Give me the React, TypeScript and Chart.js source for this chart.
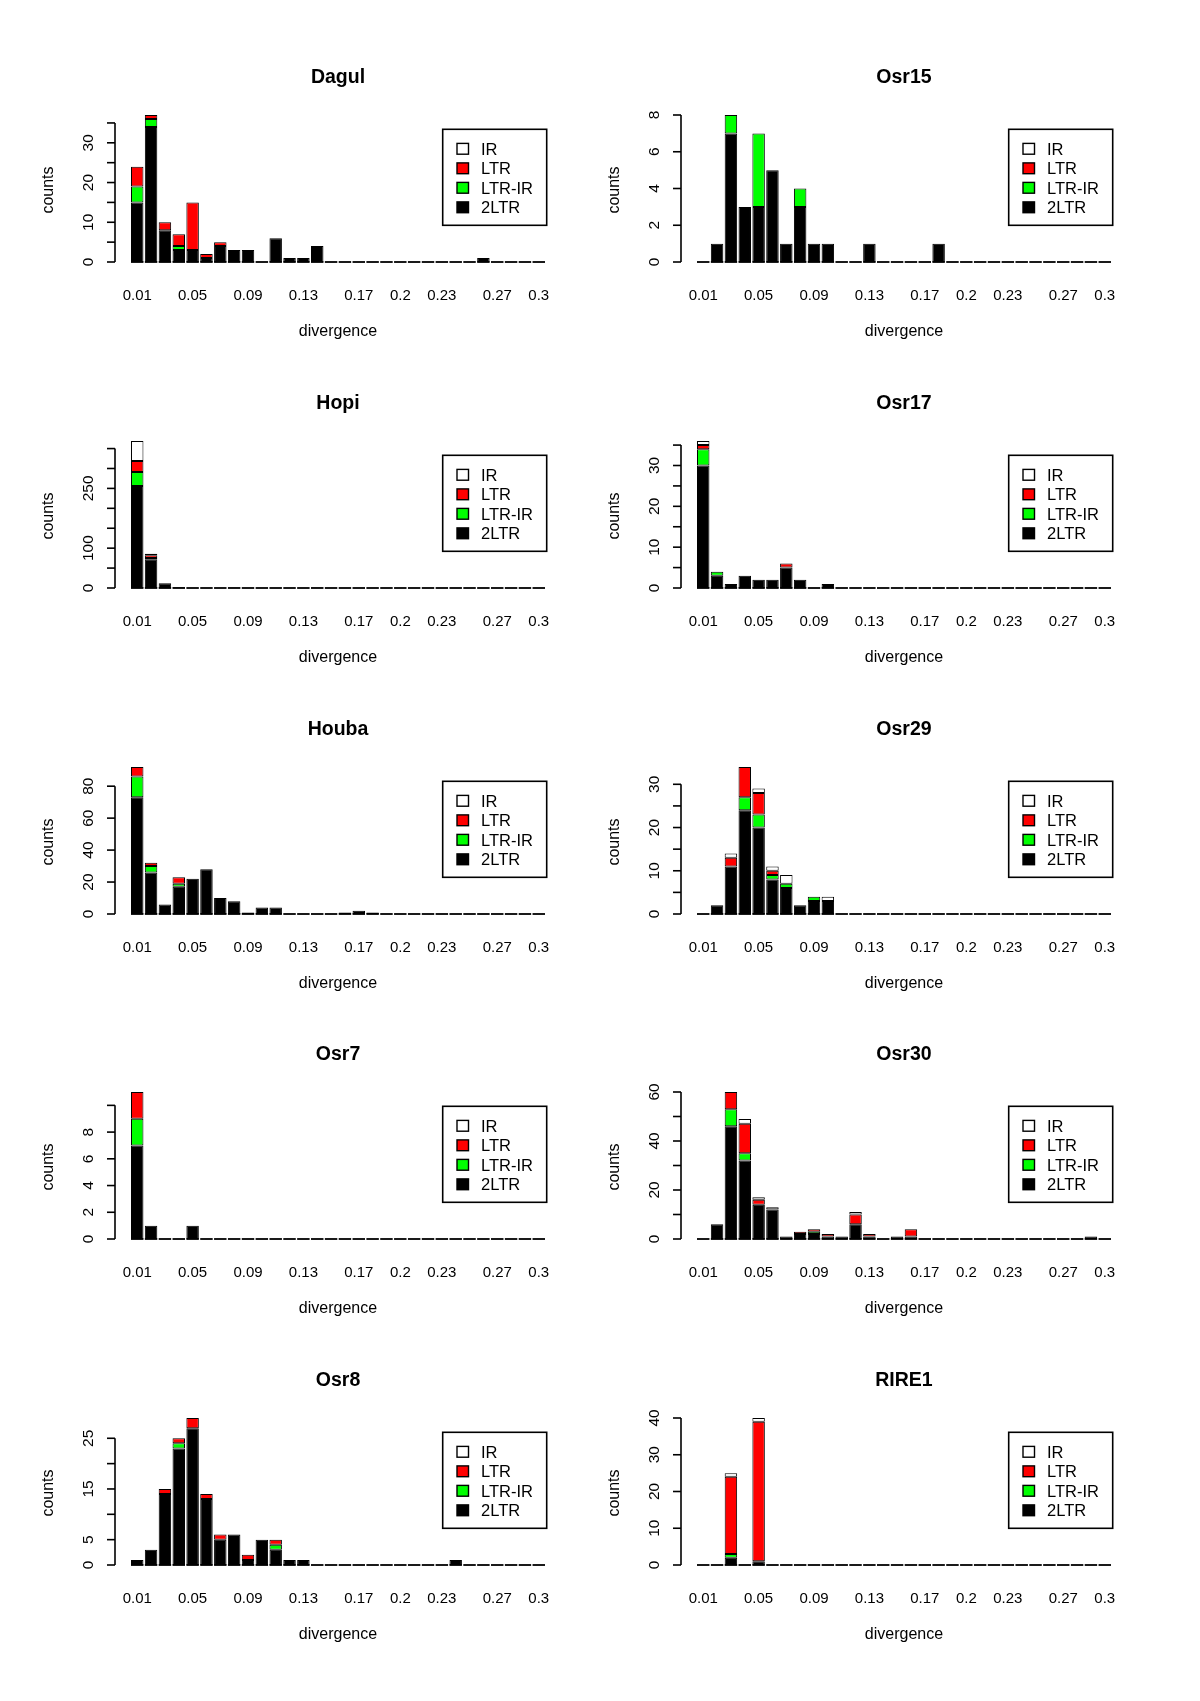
import React, { useEffect, useRef } from "react";
import { Chart, registerables } from "chart.js";

Chart.register(...registerables);

// ---------- data ----------
const categories = [
  "0.01", "0.02", "0.03", "0.04", "0.05", "0.06", "0.07", "0.08", "0.09", "0.1",
  "0.11", "0.12", "0.13", "0.14", "0.15", "0.16", "0.17", "0.18", "0.19", "0.2",
  "0.21", "0.22", "0.23", "0.24", "0.25", "0.26", "0.27", "0.28", "0.29", "0.3",
];
const shownXLabels = ["0.01", "0.05", "0.09", "0.13", "0.17", "0.2", "0.23", "0.27", "0.3"];

const seriesNames = ["2LTR", "LTR-IR", "LTR", "IR"];
const seriesColors = ["#000000", "#00FF00", "#FF0000", "#FFFFFF"];
const legendLabels = ["IR", "LTR", "LTR-IR", "2LTR"];
const legendColors = ["#FFFFFF", "#FF0000", "#00FF00", "#000000"];

// Dagul
const dagul2LTR = [15, 34, 8, 3, 3, 1, 4, 3, 3, 0, 6, 1, 1, 4, 0, 0, 0, 0, 0, 0, 0, 0, 0, 0, 0, 1, 0, 0, 0, 0];
const dagulLTRIR = [4, 2, 0, 1, 0, 0, 0, 0, 0, 0, 0, 0, 0, 0, 0, 0, 0, 0, 0, 0, 0, 0, 0, 0, 0, 0, 0, 0, 0, 0];
const dagulLTR = [5, 1, 2, 3, 12, 1, 1, 0, 0, 0, 0, 0, 0, 0, 0, 0, 0, 0, 0, 0, 0, 0, 0, 0, 0, 0, 0, 0, 0, 0];
const dagulIR = [0, 0, 0, 0, 0, 0, 0, 0, 0, 0, 0, 0, 0, 0, 0, 0, 0, 0, 0, 0, 0, 0, 0, 0, 0, 0, 0, 0, 0, 0];
const dagulTicks = [0, 5, 10, 15, 20, 25, 30, 35];
const dagulTickLabels = [0, 10, 20, 30];

// Osr15
const osr15_2LTR = [0, 1, 7, 3, 3, 5, 1, 3, 1, 1, 0, 0, 1, 0, 0, 0, 0, 1, 0, 0, 0, 0, 0, 0, 0, 0, 0, 0, 0, 0];
const osr15LTRIR = [0, 0, 1, 0, 4, 0, 0, 1, 0, 0, 0, 0, 0, 0, 0, 0, 0, 0, 0, 0, 0, 0, 0, 0, 0, 0, 0, 0, 0, 0];
const osr15LTR = [0, 0, 0, 0, 0, 0, 0, 0, 0, 0, 0, 0, 0, 0, 0, 0, 0, 0, 0, 0, 0, 0, 0, 0, 0, 0, 0, 0, 0, 0];
const osr15IR = [0, 0, 0, 0, 0, 0, 0, 0, 0, 0, 0, 0, 0, 0, 0, 0, 0, 0, 0, 0, 0, 0, 0, 0, 0, 0, 0, 0, 0, 0];
const osr15Ticks = [0, 2, 4, 6, 8];
const osr15TickLabels = [0, 2, 4, 6, 8];

// Hopi
const hopi2LTR = [256, 72, 12, 2, 0, 0, 0, 1, 0, 0, 0, 0, 0, 1, 0, 0, 0, 0, 0, 0, 0, 0, 0, 0, 0, 0, 0, 0, 0, 0];
const hopiLTRIR = [35, 3, 0, 0, 0, 0, 0, 0, 0, 0, 0, 0, 0, 0, 0, 0, 0, 0, 0, 0, 0, 0, 0, 0, 0, 0, 0, 0, 0, 0];
const hopiLTR = [28, 7, 0, 0, 0, 0, 0, 0, 0, 0, 0, 0, 0, 0, 0, 0, 0, 0, 0, 0, 0, 0, 0, 0, 0, 0, 0, 0, 0, 0];
const hopiIR = [50, 4, 0, 0, 0, 0, 0, 0, 0, 0, 0, 0, 0, 0, 0, 0, 0, 0, 0, 0, 0, 0, 0, 0, 0, 0, 0, 0, 0, 0];
const hopiTicks = [0, 50, 100, 150, 200, 250, 300, 350];
const hopiTickLabels = [0, 100, 250];

// Osr17
const osr17_2LTR = [30, 3, 1, 3, 2, 2, 5, 2, 0, 1, 0, 0, 0, 0, 0, 0, 0, 0, 0, 0, 0, 0, 0, 0, 0, 0, 0, 0, 0, 0];
const osr17LTRIR = [4, 1, 0, 0, 0, 0, 0, 0, 0, 0, 0, 0, 0, 0, 0, 0, 0, 0, 0, 0, 0, 0, 0, 0, 0, 0, 0, 0, 0, 0];
const osr17LTR = [1, 0, 0, 0, 0, 0, 1, 0, 0, 0, 0, 0, 0, 0, 0, 0, 0, 0, 0, 0, 0, 0, 0, 0, 0, 0, 0, 0, 0, 0];
const osr17IR = [1, 0, 0, 0, 0, 0, 0, 0, 0, 0, 0, 0, 0, 0, 0, 0, 0, 0, 0, 0, 0, 0, 0, 0, 0, 0, 0, 0, 0, 0];
const osr17Ticks = [0, 5, 10, 15, 20, 25, 30, 35];
const osr17TickLabels = [0, 10, 20, 30];

// Houba
const houba2LTR = [73, 26, 6, 17, 22, 28, 10, 8, 1, 4, 4, 0, 0, 0, 0, 1, 2, 1, 0, 0, 0, 0, 0, 0, 0, 0, 0, 0, 0, 0];
const houbaLTRIR = [13, 4, 0, 2, 0, 0, 0, 0, 0, 0, 0, 0, 0, 0, 0, 0, 0, 0, 0, 0, 0, 0, 0, 0, 0, 0, 0, 0, 0, 0];
const houbaLTR = [6, 2, 0, 4, 0, 0, 0, 0, 0, 0, 0, 0, 0, 0, 0, 0, 0, 0, 0, 0, 0, 0, 0, 0, 0, 0, 0, 0, 0, 0];
const houbaIR = [0, 0, 0, 0, 0, 0, 0, 0, 0, 0, 0, 0, 0, 0, 0, 0, 0, 0, 0, 0, 0, 0, 0, 0, 0, 0, 0, 0, 0, 0];
const houbaTicks = [0, 20, 40, 60, 80];
const houbaTickLabels = [0, 20, 40, 60, 80];

// Osr29
const osr29_2LTR = [0, 2, 11, 24, 20, 8, 6, 2, 3, 3, 0, 0, 0, 0, 0, 0, 0, 0, 0, 0, 0, 0, 0, 0, 0, 0, 0, 0, 0, 0];
const osr29LTRIR = [0, 0, 0, 3, 3, 1, 1, 0, 1, 0, 0, 0, 0, 0, 0, 0, 0, 0, 0, 0, 0, 0, 0, 0, 0, 0, 0, 0, 0, 0];
const osr29LTR = [0, 0, 2, 7, 5, 1, 0, 0, 0, 0, 0, 0, 0, 0, 0, 0, 0, 0, 0, 0, 0, 0, 0, 0, 0, 0, 0, 0, 0, 0];
const osr29IR = [0, 0, 1, 0, 1, 1, 2, 0, 0, 1, 0, 0, 0, 0, 0, 0, 0, 0, 0, 0, 0, 0, 0, 0, 0, 0, 0, 0, 0, 0];
const osr29Ticks = [0, 5, 10, 15, 20, 25, 30];
const osr29TickLabels = [0, 10, 20, 30];

// Osr7
const osr7_2LTR = [7, 1, 0, 0, 1, 0, 0, 0, 0, 0, 0, 0, 0, 0, 0, 0, 0, 0, 0, 0, 0, 0, 0, 0, 0, 0, 0, 0, 0, 0];
const osr7LTRIR = [2, 0, 0, 0, 0, 0, 0, 0, 0, 0, 0, 0, 0, 0, 0, 0, 0, 0, 0, 0, 0, 0, 0, 0, 0, 0, 0, 0, 0, 0];
const osr7LTR = [2, 0, 0, 0, 0, 0, 0, 0, 0, 0, 0, 0, 0, 0, 0, 0, 0, 0, 0, 0, 0, 0, 0, 0, 0, 0, 0, 0, 0, 0];
const osr7IR = [0, 0, 0, 0, 0, 0, 0, 0, 0, 0, 0, 0, 0, 0, 0, 0, 0, 0, 0, 0, 0, 0, 0, 0, 0, 0, 0, 0, 0, 0];
const osr7Ticks = [0, 2, 4, 6, 8, 10];
const osr7TickLabels = [0, 2, 4, 6, 8];

// Osr30
const osr30_2LTR = [0, 6, 46, 32, 14, 12, 1, 2, 2, 1, 1, 6, 1, 0, 1, 1, 0, 0, 0, 0, 0, 0, 0, 0, 0, 0, 0, 0, 1, 0];
const osr30LTRIR = [0, 0, 7, 3, 0, 0, 0, 0, 1, 0, 0, 0, 0, 0, 0, 0, 0, 0, 0, 0, 0, 0, 0, 0, 0, 0, 0, 0, 0, 0];
const osr30LTR = [0, 0, 7, 12, 2, 0, 0, 1, 1, 1, 0, 4, 1, 0, 0, 3, 0, 0, 0, 0, 0, 0, 0, 0, 0, 0, 0, 0, 0, 0];
const osr30IR = [0, 0, 0, 2, 1, 1, 0, 0, 0, 0, 0, 1, 0, 0, 0, 0, 0, 0, 0, 0, 0, 0, 0, 0, 0, 0, 0, 0, 0, 0];
const osr30Ticks = [0, 10, 20, 30, 40, 50, 60];
const osr30TickLabels = [0, 20, 40, 60];

// Osr8
const osr8_2LTR = [1, 3, 14, 23, 27, 13, 5, 6, 1, 5, 3, 1, 1, 0, 0, 0, 0, 0, 0, 0, 0, 0, 0, 1, 0, 0, 0, 0, 0, 0];
const osr8LTRIR = [0, 0, 0, 1, 0, 0, 0, 0, 0, 0, 1, 0, 0, 0, 0, 0, 0, 0, 0, 0, 0, 0, 0, 0, 0, 0, 0, 0, 0, 0];
const osr8LTR = [0, 0, 1, 1, 2, 1, 1, 0, 1, 0, 1, 0, 0, 0, 0, 0, 0, 0, 0, 0, 0, 0, 0, 0, 0, 0, 0, 0, 0, 0];
const osr8IR = [0, 0, 0, 0, 0, 0, 0, 0, 0, 0, 0, 0, 0, 0, 0, 0, 0, 0, 0, 0, 0, 0, 0, 0, 0, 0, 0, 0, 0, 0];
const osr8Ticks = [0, 5, 10, 15, 20, 25];
const osr8TickLabels = [0, 5, 15, 25];

// RIRE1
const rire1_2LTR = [0, 0, 2, 0, 1, 0, 0, 0, 0, 0, 0, 0, 0, 0, 0, 0, 0, 0, 0, 0, 0, 0, 0, 0, 0, 0, 0, 0, 0, 0];
const rire1LTRIR = [0, 0, 1, 0, 0, 0, 0, 0, 0, 0, 0, 0, 0, 0, 0, 0, 0, 0, 0, 0, 0, 0, 0, 0, 0, 0, 0, 0, 0, 0];
const rire1LTR = [0, 0, 21, 0, 38, 0, 0, 0, 0, 0, 0, 0, 0, 0, 0, 0, 0, 0, 0, 0, 0, 0, 0, 0, 0, 0, 0, 0, 0, 0];
const rire1IR = [0, 0, 1, 0, 1, 0, 0, 0, 0, 0, 0, 0, 0, 0, 0, 0, 0, 0, 0, 0, 0, 0, 0, 0, 0, 0, 0, 0, 0, 0];
const rire1Ticks = [0, 10, 20, 30, 40];
const rire1TickLabels = [0, 10, 20, 30, 40];

const panels = [
  { title: "Dagul", series: [dagul2LTR, dagulLTRIR, dagulLTR, dagulIR], ticks: dagulTicks, tickLabels: dagulTickLabels },
  { title: "Osr15", series: [osr15_2LTR, osr15LTRIR, osr15LTR, osr15IR], ticks: osr15Ticks, tickLabels: osr15TickLabels },
  { title: "Hopi", series: [hopi2LTR, hopiLTRIR, hopiLTR, hopiIR], ticks: hopiTicks, tickLabels: hopiTickLabels },
  { title: "Osr17", series: [osr17_2LTR, osr17LTRIR, osr17LTR, osr17IR], ticks: osr17Ticks, tickLabels: osr17TickLabels },
  { title: "Houba", series: [houba2LTR, houbaLTRIR, houbaLTR, houbaIR], ticks: houbaTicks, tickLabels: houbaTickLabels },
  { title: "Osr29", series: [osr29_2LTR, osr29LTRIR, osr29LTR, osr29IR], ticks: osr29Ticks, tickLabels: osr29TickLabels },
  { title: "Osr7", series: [osr7_2LTR, osr7LTRIR, osr7LTR, osr7IR], ticks: osr7Ticks, tickLabels: osr7TickLabels },
  { title: "Osr30", series: [osr30_2LTR, osr30LTRIR, osr30LTR, osr30IR], ticks: osr30Ticks, tickLabels: osr30TickLabels },
  { title: "Osr8", series: [osr8_2LTR, osr8LTRIR, osr8LTR, osr8IR], ticks: osr8Ticks, tickLabels: osr8TickLabels },
  { title: "RIRE1", series: [rire1_2LTR, rire1LTRIR, rire1LTR, rire1IR], ticks: rire1Ticks, tickLabels: rire1TickLabels },
];

// ---------- layout ----------
const FONT = "'Liberation Sans', Arial, Helvetica, sans-serif";
const W = 566;
const H = 345;
const AREA_LEFT = 130.3;
const AREA_RIGHT = 545.7;
const AREA_TOP = 115;
const AREA_BOTTOM = 262;
const COL_STEP = 566;
const ROW_STEP = 325.75;

const rPlugin = {
  id: "rDecor",
  afterDatasetsDraw(chart: any, _args: any, opts: any) {
    const ctx = chart.ctx as CanvasRenderingContext2D;
    const xs = chart.scales.x;
    const ys = chart.scales.y;
    const area = chart.chartArea;
    const y0 = ys.getPixelForValue(0);
    ctx.save();

    // zero-height bar outlines along the baseline
    ctx.strokeStyle = "#000";
    ctx.lineWidth = 1.8;
    const meta = chart.getDatasetMeta(0);
    meta.data.forEach((bar: any) => {
      const p = bar.getProps(["x", "width"], true);
      ctx.beginPath();
      ctx.moveTo(p.x - p.width / 2, y0);
      ctx.lineTo(p.x + p.width / 2, y0);
      ctx.stroke();
    });

    // y axis (R style)
    const ax = area.left - 15.3;
    const ticks: number[] = opts.ticks;
    const labels: number[] = opts.tickLabels;
    const yTop = ys.getPixelForValue(ticks[ticks.length - 1]);
    ctx.lineWidth = 1.6;
    ctx.beginPath();
    ctx.moveTo(ax, y0);
    ctx.lineTo(ax, yTop);
    ctx.stroke();
    ticks.forEach((t) => {
      const py = ys.getPixelForValue(t);
      ctx.beginPath();
      ctx.moveTo(ax - 8, py);
      ctx.lineTo(ax, py);
      ctx.stroke();
    });
    ctx.fillStyle = "#000";
    ctx.font = `15.5px ${FONT}`;
    ctx.textAlign = "center";
    ctx.textBaseline = "alphabetic";
    labels.forEach((t) => {
      const py = ys.getPixelForValue(t);
      ctx.save();
      ctx.translate(ax - 21.7, py);
      ctx.rotate(-Math.PI / 2);
      ctx.fillText(String(t), 0, 0);
      ctx.restore();
    });

    // x tick labels (no axis line, like barplot names)
    ctx.font = `15px ${FONT}`;
    categories.forEach((c, i) => {
      if (shownXLabels.indexOf(c) >= 0) {
        ctx.fillText(c, xs.getPixelForValue(i), y0 + 38);
      }
    });

    const cx = (area.left + area.right) / 2;
    // axis titles
    ctx.font = `16px ${FONT}`;
    ctx.fillText("divergence", cx, y0 + 74);
    ctx.save();
    ctx.translate(53, 190);
    ctx.rotate(-Math.PI / 2);
    ctx.fillText("counts", 0, 0);
    ctx.restore();

    // main title
    ctx.font = `bold 19.5px ${FONT}`;
    ctx.fillText(opts.title, cx, 83);

    // legend box
    const lx0 = 442.7, lx1 = 546.7, ly0 = 129.3, ly1 = 225.3;
    ctx.lineWidth = 1.6;
    ctx.strokeRect(lx0, ly0, lx1 - lx0, ly1 - ly0);
    ctx.font = `16.5px ${FONT}`;
    ctx.textAlign = "left";
    const rows = [148.8, 168.3, 187.8, 207.3];
    legendLabels.forEach((lab, i) => {
      const ry = rows[i];
      ctx.fillStyle = legendColors[i];
      ctx.fillRect(457, ry - 5.4, 11.5, 10.8);
      ctx.strokeStyle = "#000";
      ctx.lineWidth = 1.4;
      ctx.strokeRect(457, ry - 5.4, 11.5, 10.8);
      ctx.fillStyle = "#000";
      ctx.fillText(lab, 481, ry + 6);
    });

    ctx.restore();
  },
};

function Panel({ panel, left, top }: { panel: any; left: number; top: number }) {
  const ref = useRef<HTMLCanvasElement | null>(null);
  useEffect(() => {
    if (!ref.current) return;
    const totals = categories.map((_, i) =>
      panel.series.reduce((s: number, arr: number[]) => s + arr[i], 0)
    );
    const maxTotal = Math.max(...totals);
    const chart = new Chart(ref.current, {
      type: "bar",
      data: {
        labels: categories,
        datasets: panel.series.map((d: number[], i: number) => ({
          label: seriesNames[i],
          data: d,
          backgroundColor: seriesColors[i],
          borderColor: "#000000",
          borderWidth: 1,
          borderSkipped: false,
          barPercentage: 0.9,
          categoryPercentage: 1,
        })),
      },
      options: {
        responsive: false,
        maintainAspectRatio: false,
        animation: false,
        devicePixelRatio: 1,
        layout: {
          padding: {
            left: AREA_LEFT,
            right: W - AREA_RIGHT,
            top: AREA_TOP,
            bottom: H - AREA_BOTTOM,
          },
        },
        scales: {
          x: { stacked: true, display: false },
          y: { stacked: true, display: false, min: 0, max: maxTotal },
        },
        plugins: {
          legend: { display: false },
          tooltip: { enabled: false },
          rDecor: { title: panel.title, ticks: panel.ticks, tickLabels: panel.tickLabels },
        } as any,
      },
      plugins: [rPlugin as any],
    });
    return () => chart.destroy();
  }, [panel]);
  return (
    <canvas
      ref={ref}
      width={W}
      height={H}
      style={{ position: "absolute", left, top, width: W, height: H }}
    />
  );
}

export default function App() {
  return (
    <div
      style={{
        position: "absolute",
        left: 0,
        top: 0,
        width: 1200,
        height: 1701,
        background: "#ffffff",
        overflow: "hidden",
      }}
    >
      {panels.map((p, i) => {
        const col = i % 2;
        const row = Math.floor(i / 2);
        return (
          <Panel
            key={p.title}
            panel={p}
            left={col * COL_STEP}
            top={Math.round(row * ROW_STEP)}
          />
        );
      })}
    </div>
  );
}
